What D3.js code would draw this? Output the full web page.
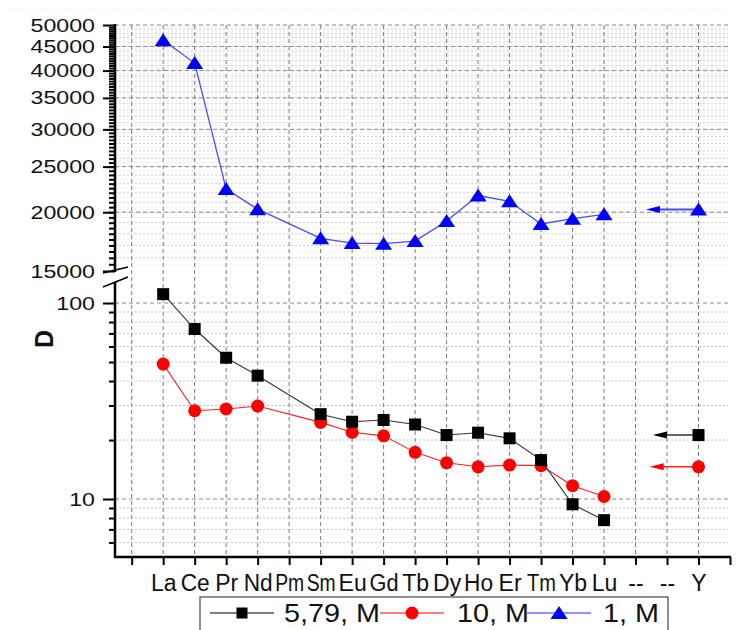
<!DOCTYPE html>
<html>
<head>
<meta charset="utf-8">
<script src="https://cdn.jsdelivr.net/npm/d3@7"></script>
<style>
  body { margin: 0; background: #fff; }
  text { font-family: "Liberation Sans", Arial, sans-serif; fill: #111; }
</style>
</head>
<body>
<div id="wrapper"></div>
<script>
// categories on the x axis (index 0 and 19 have no label)
const tickLabels = ["", "La", "Ce", "Pr", "Nd", "Pm", "Sm", "Eu", "Gd", "Tb", "Dy", "Ho", "Er", "Tm", "Yb", "Lu", "--", "--", "Y", ""];
const elements = ["La", "Ce", "Pr", "Nd", "Pm", "Sm", "Eu", "Gd", "Tb", "Dy", "Ho", "Er", "Tm", "Yb", "Lu"];

// D values for each series, La..Lu (Pm not measured)
const d579 = [111, 73.7, 52.6, 42.6, null, 27.1, 24.8, 25.3, 24.0, 21.2, 21.8, 20.4, 15.8, 9.4, 7.8];
const d10 = [48.8, 28.2, 28.8, 29.8, null, 24.6, 21.9, 21.0, 17.3, 15.3, 14.6, 14.9, 14.8, 11.7, 10.3];
const d1 = [46400, 41500, 22400, 20300, null, 17600, 17200, 17150, 17370, 19160, 21700, 21100, 18880, 19380, 19800];

// D values for Y
const yD579 = 21.2;
const yD10 = 14.6;
const yD1 = 20280;

const seriesNames = ["5,79, M", "10, M", "1, M"];

// axis ticks
const upperTicks = [15000, 20000, 25000, 30000, 35000, 40000, 45000, 50000];
const lowerTicks = [10, 100];
const lowerMinor = [6, 7, 8, 9, 20, 30, 40, 50, 60, 70, 80, 90];

function buildPlot() {
    const width = 742, height = 630;

    const svg = d3.select("#wrapper").append("svg")
        .attr("width", width)
        .attr("height", height);

    const xScaler = d3.scaleLinear().domain([-0.53, 19]).range([115, 730]);
    const yUpper = d3.scaleLog().domain([15000, 50000]).range([271, 25]);
    const yLower = d3.scaleLog().domain([5.06, 123.6]).range([557, 285]);

    const left = 115, right = 728;

    // faint frame line at the top
    svg.append("line")
        .attr("x1", 12).attr("x2", 732).attr("y1", 10).attr("y2", 10)
        .attr("stroke", "#e4e4e4").attr("stroke-dasharray", "1,2");

    const grid = svg.append("g");

    // upper minor grid (dense)
    const upperMinor = d3.range(15500, 50000, 500);
    grid.selectAll(".um").data(upperMinor).join("line")
        .attr("x1", left).attr("x2", right)
        .attr("y1", d => yUpper(d)).attr("y2", d => yUpper(d))
        .attr("stroke", d => d % 1000 === 0 ? "#cccccc" : "#ececec")
        .attr("stroke-width", 1)
        .attr("stroke-dasharray", "2,2");

    // lower minor grid
    grid.selectAll(".lm").data(lowerMinor).join("line")
        .attr("x1", left).attr("x2", right)
        .attr("y1", d => yLower(d)).attr("y2", d => yLower(d))
        .attr("stroke", "#c4c4c4")
        .attr("stroke-dasharray", "2,2");

    // major horizontal grid
    grid.selectAll(".uM").data(upperTicks.filter(d => d > 15000)).join("line")
        .attr("x1", left).attr("x2", right)
        .attr("y1", d => yUpper(d)).attr("y2", d => yUpper(d))
        .attr("stroke", "#8a8a8a")
        .attr("stroke-dasharray", "4,3");
    grid.selectAll(".lM").data(lowerTicks).join("line")
        .attr("x1", left).attr("x2", right)
        .attr("y1", d => yLower(d)).attr("y2", d => yLower(d))
        .attr("stroke", "#8a8a8a")
        .attr("stroke-dasharray", "4,3");

    // vertical grid
    grid.selectAll(".vg").data(d3.range(0, 19)).join("line")
        .attr("x1", d => xScaler(d)).attr("x2", d => xScaler(d))
        .attr("y1", 25).attr("y2", 557)
        .attr("stroke", "#7a7a7a")
        .attr("stroke-dasharray", "4,3");

    // upper axis
    const upperAxis = svg.append("g")
        .attr("transform", `translate(${left},0)`)
        .call(d3.axisLeft(yUpper).tickValues(upperTicks).tickSize(12).tickFormat(d3.format("d")).tickPadding(8));
    svg.append("g")
        .attr("transform", `translate(${left},0)`)
        .call(d3.axisLeft(yUpper).tickValues(upperMinor).tickSize(6).tickFormat(""))
        .call(g => g.select(".domain").remove());

    // lower axis
    const lowerAxis = svg.append("g")
        .attr("transform", `translate(${left},0)`)
        .call(d3.axisLeft(yLower).tickValues(lowerTicks).tickSize(12).tickFormat(d3.format("d")).tickPadding(8));
    svg.append("g")
        .attr("transform", `translate(${left},0)`)
        .call(d3.axisLeft(yLower).tickValues(lowerMinor).tickSize(6).tickFormat(""))
        .call(g => g.select(".domain").remove());

    [upperAxis, lowerAxis].forEach(g => {
        g.select(".domain").remove();
        g.selectAll("text")
            .attr("font-size", 19)
            .attr("fill", "#111")
            .attr("text-anchor", "end")
            .style("transform-box", "fill-box")
            .style("transform-origin", "right center")
            .style("transform", "scaleX(1.22)");
    });
    svg.selectAll(".tick line").attr("stroke", "#000").attr("stroke-width", 2);

    // y axis lines with break
    svg.append("line").attr("x1", left).attr("x2", left).attr("y1", 24).attr("y2", 272)
        .attr("stroke", "#000").attr("stroke-width", 2.5);
    svg.append("line").attr("x1", left).attr("x2", left).attr("y1", 282).attr("y2", 558)
        .attr("stroke", "#000").attr("stroke-width", 2.5);
    svg.append("rect").attr("x", left - 3).attr("y", 273).attr("width", 6).attr("height", 9).attr("fill", "#fff");
    [[273, 267], [287, 277]].forEach(([y1, y2]) => {
        svg.append("line")
            .attr("x1", 103).attr("y1", y1).attr("x2", 128).attr("y2", y2)
            .attr("stroke", "#000").attr("stroke-width", 1.6);
    });

    // x axis
    const xAxis = svg.append("g")
        .attr("transform", "translate(0,557)")
        .call(d3.axisBottom(xScaler).tickValues(d3.range(0, 20)).tickSize(8)
            .tickFormat(d => tickLabels[d]).tickPadding(10));
    xAxis.select(".domain").remove();
    xAxis.selectAll(".tick line").attr("stroke", "#000").attr("stroke-width", 2);
    xAxis.selectAll("text")
        .attr("font-size", 23)
        .attr("fill", "#111")
        .attr("dy", "0.69em")
        .each(function () {
            // squeeze the widest labels so neighbours do not collide
            if (this.getComputedTextLength() > 29) {
                d3.select(this).attr("textLength", 29).attr("lengthAdjust", "spacingAndGlyphs");
            }
        });
    svg.append("line").attr("x1", left - 1).attr("x2", 731).attr("y1", 557).attr("y2", 557)
        .attr("stroke", "#000").attr("stroke-width", 2.5);

    // y label
    svg.append("text")
        .attr("transform", "translate(53,339) rotate(-90)")
        .attr("text-anchor", "middle")
        .attr("font-size", 25)
        .attr("font-weight", "bold")
        .text("D");

    // series
    const series = [
        { values: d579, yVal: yD579, scale: yLower, color: "#000", line: "#333", symbol: "square" },
        { values: d10, yVal: yD10, scale: yLower, color: "#ff0000", line: "#ff2020", symbol: "circle" },
        { values: d1, yVal: yD1, scale: yUpper, color: "#0000ff", line: "#4a4aff", symbol: "triangle" }
    ];
    const arrowStart = [16.55, 16.45, 16.33];

    const marker = (g, type, color) => {
        if (type === "square") {
            g.append("rect").attr("x", -6).attr("y", -6).attr("width", 12).attr("height", 12).attr("fill", color);
        } else if (type === "circle") {
            g.append("circle").attr("r", 6.5).attr("fill", color);
        } else {
            g.append("path").attr("d", "M0,-7L8.5,6L-8.5,6Z").attr("fill", color);
        }
    };

    // draw blue first (upper), then red, then black on top
    [2, 1, 0].forEach(si => {
        const s = series[si];
        const pts = s.values.map((v, i) => ({ i: i + 1, v })).filter(d => d.v !== null);

        const lineGenerator = d3.line()
            .x(d => xScaler(d.i))
            .y(d => s.scale(d.v));

        svg.append("path")
            .attr("d", lineGenerator(pts))
            .attr("fill", "none")
            .attr("stroke", s.line)
            .attr("stroke-width", si === 2 ? 1.3 : 1.1);

        // arrow from Y towards the lanthanides
        const ay = s.scale(s.yVal);
        const xTail = xScaler(arrowStart[si]);
        svg.append("line")
            .attr("x1", xScaler(18)).attr("x2", xTail + 8)
            .attr("y1", ay).attr("y2", ay)
            .attr("stroke", s.line).attr("stroke-width", si === 2 ? 2 : 1.6);
        svg.append("path")
            .attr("d", `M${xTail},${ay}L${xTail + 14},${ay - 3.5}L${xTail + 14},${ay + 3.5}Z`)
            .attr("fill", s.color);

        pts.concat([{ i: 18, v: s.yVal }]).forEach(d => {
            const g = svg.append("g").attr("transform", `translate(${xScaler(d.i)},${s.scale(d.v)})`);
            marker(g, s.symbol, s.color);
        });
    });

    // legend
    const legend = svg.append("g");
    legend.append("rect")
        .attr("x", 200).attr("y", 597).attr("width", 468).attr("height", 50)
        .attr("fill", "#fff").attr("stroke", "#444").attr("stroke-width", 1.2);
    const legendX = [210, 380, 527];
    const legendText = [284, 457, 603];
    seriesNames.forEach((name, si) => {
        const s = series[si];
        const x0 = legendX[si];
        legend.append("line")
            .attr("x1", x0).attr("x2", x0 + 64).attr("y1", 613).attr("y2", 613)
            .attr("stroke", si === 0 ? "#555" : (si === 1 ? "#ff5050" : "#7070ff")).attr("stroke-width", 1.3);
        const g = legend.append("g").attr("transform", `translate(${x0 + 32},613)`);
        marker(g, s.symbol, s.color);
        g.select("rect").attr("x", -5.5).attr("y", -5.5).attr("width", 11).attr("height", 11);
        legend.append("text")
            .attr("x", legendText[si]).attr("y", 622)
            .attr("font-size", 25)
            .style("transform-box", "fill-box")
            .style("transform-origin", "left center")
            .style("transform", "scaleX(1.15)")
            .text(name);
    });
}

buildPlot();
</script>
</body>
</html>
